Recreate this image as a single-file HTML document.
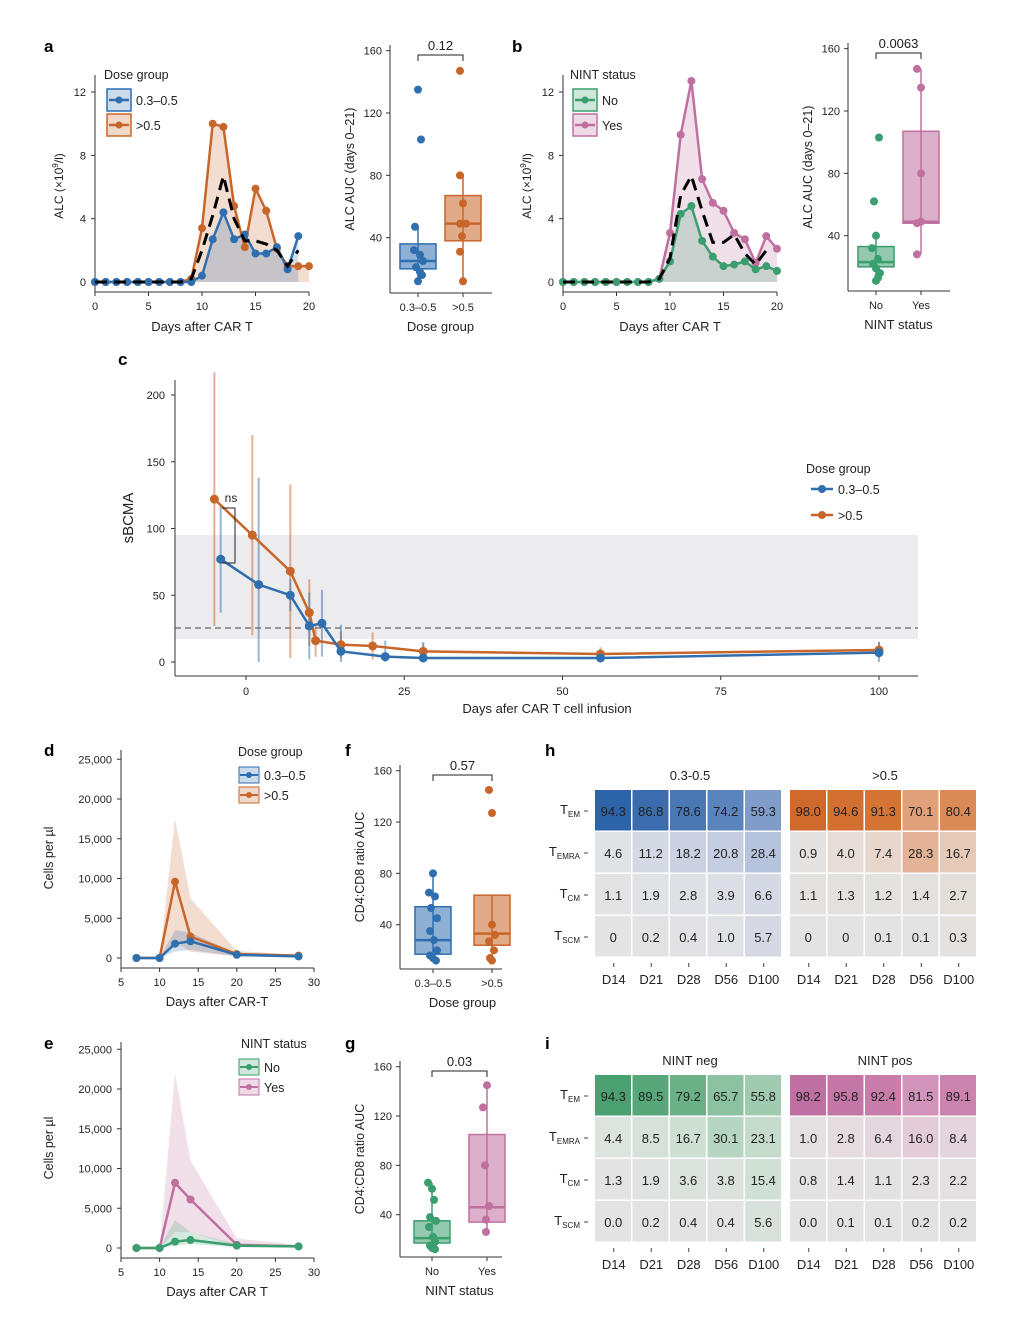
<!DOCTYPE html><html><head><meta charset="utf-8"><style>
html,body{margin:0;padding:0;background:#fff}
svg{display:block;font-family:"Liberation Sans",sans-serif}
</style></head><body>
<svg id="s" width="1016" height="1322" viewBox="0 0 1016 1322" xmlns="http://www.w3.org/2000/svg">
<g font-weight="bold" font-size="17" fill="#000">
<text x="44" y="52">a</text><text x="512" y="52">b</text><text x="118" y="365">c</text>
<text x="44" y="756">d</text><text x="345" y="756">f</text><text x="545" y="756">h</text>
<text x="44" y="1049">e</text><text x="345" y="1049">g</text><text x="545" y="1049">i</text>
</g>
</svg>
<script>
const S=document.getElementById('s');let o='';
const B='#2f6fb0',O='#c8662a',G='#3a9e6e',P='#c0709f',K='#333';
function t(x,y,s,opt={}){o+=`<text x="${x}" y="${y}" font-size="${opt.fs||12}" fill="${opt.c||'#222'}" text-anchor="${opt.a||'middle'}" ${opt.r?`transform="rotate(-90 ${x} ${y})"`:''}>${s}</text>`}
function l(x1,y1,x2,y2,c=K,w=1,d=''){o+=`<line x1="${x1}" y1="${y1}" x2="${x2}" y2="${y2}" stroke="${c}" stroke-width="${w}" ${d?`stroke-dasharray="${d}"`:''}/>`}
function pl(pts,c,w,d='',fill='none',op=1){o+=`<polyline points="${pts.map(p=>p.join(',')).join(' ')}" fill="${fill}" fill-opacity="${op}" stroke="${fill=='none'?c:'none'}" stroke-width="${w}" ${d?`stroke-dasharray="${d}"`:''}/>`}
function dot(x,y,c,r=4){o+=`<circle cx="${x}" cy="${y}" r="${r}" fill="${c}"/>`}
// line panels a,b
function linePanel(x0,series,dash,legTitle,legs,legX){
 const X=d=>x0+d*10.7,Y=v=>282-v*15.83;
 l(x0,75,x0,292);l(x0,292,x0+214,292);
 [0,5,10,15,20].forEach(d=>{l(X(d),292,X(d),296);t(X(d),310,d,{fs:11})});
 [0,4,8,12].forEach(v=>{l(x0-4,Y(v),x0,Y(v));t(x0-9,Y(v)+4,v,{fs:11,a:'end'})});
 series.forEach(([c,vals])=>{const pts=vals.map((v,i)=>[X(i),Y(v)]);
  pl([[X(0),Y(0)],...pts,[X(vals.length-1),Y(0)]],c,0,'',c,0.22);});
 series.forEach(([c,vals])=>{const pts=vals.map((v,i)=>[X(i),Y(v)]);pl(pts,c,2.5);pts.forEach(p=>dot(p[0],p[1],c));});
 pl(dash.map((v,i)=>[X(i),Y(v)]),'#000',3,'12,7');
 t(x0-32,186,'ALC (×10<tspan font-size="8" dy="-5">9</tspan><tspan dy="5">/l)</tspan>',{r:1,fs:12});
 t(x0+107,331,'Days after CAR T',{fs:13});
 t(legX,79,legTitle,{a:'start',fs:12.5});
 legs.forEach(([c,s],i)=>{const y=100+i*25;o+=`<rect x="${legX+3}" y="${y-11}" width="24" height="22" fill="${c}" fill-opacity=".25" stroke="${c}" stroke-width="1.5"/>`;l(legX+5,y,legX+25,y,c,2.5);dot(legX+15,y,c,3.5);t(legX+32,y+5,s,{a:'start',fs:12.5})});
}
linePanel(95,[[O,[0,0,0,0,0,0,0,0,0,0.2,3.4,10,9.8,4.8,2.2,5.9,4.5,2.1,1,1,1]],[B,[0,0,0,0,0,0,0,0,0,0,0.4,2.7,4.4,2.7,3,1.8,1.8,2.2,0.8,2.9]]],
 [0,0,0,0,0,0,0,0,0,0.2,2,4.2,6.7,4,2.6,2.6,2.4,2.0,1,2],'Dose group',[[B,'0.3–0.5'],[O,'>0.5']],104);
linePanel(563,[[P,[0,0,0,0,0,0,0,0,0,0.2,3.1,9.3,12.7,6.5,5,4.5,3.1,2.7,1.2,2.9,2.1]],[G,[0,0,0,0,0,0,0,0,0,0.2,1.3,4.3,4.8,2.6,1.6,1.0,1.1,1.3,0.8,1.0,0.7]]],
 [0,0,0,0,0,0,0,0,0,0.2,1.5,5.5,6.7,4.5,2.5,2.5,3,1.8,1.1,2],'NINT status',[[G,'No'],[P,'Yes']],570);
// box plots
function box(ax,ytop,y0,sc,ticks,bot,boxes,pv,ylab,xlab,fs=11){
 const Y=v=>y0-v*sc;
 l(ax,ytop,ax,bot);l(ax,bot,ax+102,bot);
 ticks.forEach(v=>{l(ax-4,Y(v),ax,Y(v));t(ax-8,Y(v)+4,v,{fs:11,a:'end'})});
 boxes.forEach(b=>{const [x,c,q1,md,q3,w1,w2,pts,lab]=b;
  l(x,Y(w1),x,Y(w2),c,1.5);
  o+=`<rect x="${x-18}" y="${Y(q3)}" width="36" height="${Y(q1)-Y(q3)}" fill="${c}" fill-opacity=".55" stroke="${c}" stroke-width="1.5"/>`;
  l(x-18,Y(md),x+18,Y(md),c,2.5);
  pts.forEach(([dx,v])=>dot(x+dx,Y(v),c,4));
  l(x,bot,x,bot+4);t(x,bot+18,lab,{fs:fs});
 });
 const x1=boxes[0][0],x2=boxes[1][0];
 o+=`<polyline points="${x1},${ytop+16} ${x1},${ytop+10} ${x2},${ytop+10} ${x2},${ytop+16}" fill="none" stroke="#222"/>`;
 t((x1+x2)/2,ytop+5,pv,{fs:13});
 t(ax-36,(ytop+bot)/2,ylab,{r:1,fs:12.5});
 t((x1+x2)/2,bot+38,xlab,{fs:13});
}
box(390,45,300,1.5583,[40,80,120,160],293,[
 [418,B,20,25,36,12,47,[[0,135],[3,103],[-3,47],[-4,32],[2,29],[5,25],[-2,21],[2,18],[4,16],[0,12]],'0.3–0.5'],
 [463,O,38,49,67,12,80,[[-3,147],[-3,80],[0,62],[3,49],[-3,49],[-1,41],[-3,31],[0,12]],'>0.5']],'0.12','ALC AUC (days 0–21)','Dose group');
box(848,43,298,1.5583,[40,80,120,160],291,[
 [876,G,20,23,33,14,40,[[3,103],[-2,62],[0,40],[-4,32],[2,25],[-3,22],[0,19],[4,16],[2,13],[0,11]],'No'],
 [921,P,48,49,107,28,147,[[-4,147],[0,135],[0,80],[0,49],[-4,48],[-4,28]],'Yes']],'0.0063','ALC AUC (days 0–21)','NINT status');
// panel c
(function(){const X=d=>246+d*6.33,Y=v=>662-v*1.335;
 o+=`<rect x="175" y="535" width="743" height="104" fill="#ececee"/>`;
 l(175,628,918,628,'#666',1.2,'6,4');
 l(175,380,175,676);l(175,676,918,676);
 [0,50,100,150,200].forEach(v=>{l(171,Y(v),175,Y(v));t(165,Y(v)+4,v,{fs:11,a:'end'})});
 [0,25,50,75,100].forEach(d=>{l(X(d),676,X(d),680);t(X(d),695,d,{fs:11})});
 t(133,518,'sBCMA',{r:1,fs:15});t(547,713,'Days afer CAR T cell infusion',{fs:13});
 const bl=[[-4,77,40],[2,58,80],[7,50,12],[10,27,25],[12,29,25],[15,8,20],[22,4,12],[28,3,12],[56,3,5],[100,7,8]];
 const or=[[-5,122,95],[1,95,75],[7,68,65],[10,37,25],[11,16,12],[15,13,10],[20,12,10],[28,8,6],[56,6,5],[100,9,6]];
 [[or,O],[bl,B]].forEach(([d,c])=>{d.forEach(([x,v,e])=>{o+=`<line x1="${X(x)}" y1="${Y(v+e)}" x2="${X(x)}" y2="${Y(Math.max(0,v-e))}" stroke="${c}" stroke-opacity=".5" stroke-width="2"/>`});});
 [[or,O],[bl,B]].forEach(([d,c])=>{const p=d.map(([x,v])=>[X(x),Y(v)]);pl(p,c,2.5);p.forEach(q=>dot(q[0],q[1],c,4.5))});
 o+=`<polyline points="222,508 235,508 235,563 222,563" fill="none" stroke="#222"/>`;t(231,502,'ns',{fs:12});
 t(806,473,'Dose group',{a:'start',fs:12.5});
 [[B,'0.3–0.5'],[O,'>0.5']].forEach(([c,s],i)=>{const y=489+i*26;l(811,y,833,y,c,2.5);dot(822,y,c,4);t(838,y+5,s,{a:'start',fs:12.5})});
})();
// panels d e
function kin(y0,ytop,s1,s2,c1,c2,title,legs,xlab){
 const X=d=>121+(d-5)*7.72,Y=v=>y0-v*0.00795, days=[7,10,12,14,20,28];
 l(121,ytop,121,y0+10);l(121,y0+10,314,y0+10);
 [0,5000,10000,15000,20000,25000].forEach(v=>{l(117,Y(v),121,Y(v));t(112,Y(v)+4,v.toLocaleString('en-US'),{fs:11,a:'end'})});
 [5,10,15,20,25,30].forEach(d=>{l(X(d),y0+10,X(d),y0+14);t(X(d),y0+28,d,{fs:11})});
 [[s2,c2],[s1,c1]].forEach(([s,c])=>{const up=s.map((v,i)=>[X(days[i]),Y(v[1])]),dn=s.map((v,i)=>[X(days[i]),Y(v[2])]).reverse();
  o+=`<polygon points="${[...up,...dn].map(p=>p.join(',')).join(' ')}" fill="${c}" fill-opacity=".22"/>`;});
 [[s2,c2],[s1,c1]].forEach(([s,c])=>{const p=s.map((v,i)=>[X(days[i]),Y(v[0])]);pl(p,c,2.5);p.forEach(q=>dot(q[0],q[1],c,4))});
 t(53,y0-100,'Cells per µl',{r:1,fs:12.5});t(217,y0+48,xlab,{fs:13});
 t(238+(legs[0][1]=='No'?3:0),ytop+6,title,{a:'start',fs:12.5});
 legs.forEach(([c,s],i)=>{const y=ytop+25+i*20;o+=`<rect x="${239}" y="${y-8}" width="20" height="16" fill="${c}" fill-opacity=".25" stroke="${c}"/>`;l(240,y,258,y,c,2);dot(249,y,c,3);t(264,y+5,s,{a:'start',fs:12.5})});
}
kin(958,750,[[0,0,0],[0,0,0],[1800,3500,800],[2100,3200,1000],[400,600,200],[200,300,100]],
 [[0,0,0],[0,0,0],[9600,17500,2000],[2700,7500,800],[500,900,200],[300,400,100]],B,O,'Dose group',[[B,'0.3–0.5'],[O,'>0.5']],'Days after CAR-T');
kin(1248,1042,[[0,0,0],[0,0,0],[800,3500,300],[1000,2000,500],[300,500,100],[200,300,100]],
 [[0,0,0],[0,0,0],[8200,22000,2000],[6100,11000,2000],[400,1200,200],[200,400,100]],G,P,'NINT status',[[G,'No'],[P,'Yes']],'Days after CAR T');
box(400,765,976,1.283,[40,80,120,160],969,[
 [433,B,17,28,54,12,80,[[0,80],[-4,65],[2,62],[-2,53],[4,45],[-3,35],[1,28],[4,20],[-3,16],[0,14],[3,12]],'0.3–0.5'],
 [492,O,24,33,63,12,63,[[-3,145],[0,127],[0,40],[3,32],[-3,27],[2,20],[-2,14],[0,12]],'>0.5']],'0.57','CD4:CD8 ratio AUC','Dose group');
box(400,1061,1264,1.233,[40,80,120,160],1257,[
 [432,G,17,21,35,12,66,[[-4,66],[0,61],[2,52],[-2,38],[4,35],[-3,30],[1,22],[3,18],[-2,15],[0,13],[3,12]],'No'],
 [487,P,34,46,105,26,145,[[0,145],[-4,127],[-2,80],[2,47],[-1,36],[-1,26]],'Yes']],'0.03','CD4:CD8 ratio AUC','NINT status');
// heatmaps
function heat(y0,rh,t1,t2,vals,cols){
 const rows=['T<tspan font-size="8" dy="3">EM</tspan>','T<tspan font-size="8" dy="3">EMRA</tspan>','T<tspan font-size="8" dy="3">CM</tspan>','T<tspan font-size="8" dy="3">SCM</tspan>'];
 const xs=[595,790],cw=37.5;
 t(690,y0-10,t1,{fs:13});t(885,y0-10,t2,{fs:13});
 for(let g=0;g<2;g++)for(let r=0;r<4;r++)for(let c=0;c<5;c++){
  const x=xs[g]+c*cw,y=y0+r*rh;
  o+=`<rect x="${x}" y="${y}" width="${cw-1.5}" height="${rh-1.5}" fill="${cols[g][r][c]}"/>`;
  t(x+cw/2-0.5,y+rh/2+5,vals[g][r][c],{fs:13});
 }
 rows.forEach((s,r)=>{t(580,y0+r*rh+rh/2+3,s,{a:'end',fs:13});l(584,y0+r*rh+rh/2,588,y0+r*rh+rh/2,'#444')});
 const by=y0+4*rh;
 ['D14','D21','D28','D56','D100'].forEach((d,c)=>{for(let g=0;g<2;g++){const x=xs[g]+c*cw+cw/2;l(x,by+5,x,by+9,'#444');t(x,by+26,d,{fs:13})}});
}
const gr='#e3e3e3';
heat(790,42,'0.3-0.5','>0.5',
 [[['94.3','86.8','78.6','74.2','59.3'],['4.6','11.2','18.2','20.8','28.4'],['1.1','1.9','2.8','3.9','6.6'],['0','0.2','0.4','1.0','5.7']],
  [['98.0','94.6','91.3','70.1','80.4'],['0.9','4.0','7.4','28.3','16.7'],['1.1','1.3','1.2','1.4','2.7'],['0','0','0.1','0.1','0.3']]],
 [[['#2d63a8','#3a6cae','#4a78b5','#5a84bb','#7f9dc8'],['#e0e2e6','#d5d9e3','#cad1e0','#c5cde0','#b5c3dc'],['#e3e3e4','#e1e2e5','#dfe0e5','#dcdee5','#d5d9e3'],['#e4e4e4','#e3e3e4','#e2e2e4','#e0e1e4','#d6d9e3']],
  [['#d06a2c','#d36f30','#d57535','#dfa07a','#d98a56'],['#e4e2e0','#e6ddd7','#e7d6cb','#e4b294','#e6c9b6'],['#e3e2e1','#e3e1e0','#e3e2e1','#e3e1df','#e4ded9'],['#e3e3e3','#e3e3e3','#e3e3e3','#e3e3e3','#e3e2e1']]]);
heat(1075,42,'NINT neg','NINT pos',
 [[['94.3','89.5','79.2','65.7','55.8'],['4.4','8.5','16.7','30.1','23.1'],['1.3','1.9','3.6','3.8','15.4'],['0.0','0.2','0.4','0.4','5.6']],
  [['98.2','95.8','92.4','81.5','89.1'],['1.0','2.8','6.4','16.0','8.4'],['0.8','1.4','1.1','2.3','2.2'],['0.0','0.1','0.1','0.2','0.2']]],
 [[['#4aa070','#57a77a','#6bb188','#8cc1a1','#a0cbb1'],['#dde3df','#d6e1da','#cde0d3','#b7d6c2','#c5dccc'],['#e2e3e2','#e0e3e1','#dbe2dd','#dbe2dd','#cfe0d4'],['#e3e3e3','#e3e3e3','#e2e3e2','#e2e3e2','#d9e1dc']],
  [['#c06fa2','#c476a6','#c87dab','#d394bb','#cb84ae'],['#e4e0e2','#e5dce0','#e4d6dd','#e4cbd8','#e4d5dc'],['#e3e2e2','#e3e1e2','#e3e2e2','#e3e0e1','#e3e0e1'],['#e3e3e3','#e3e3e3','#e3e3e3','#e3e2e3','#e3e2e3']]]);
S.insertAdjacentHTML('beforeend',o);
</script>
</body></html>
